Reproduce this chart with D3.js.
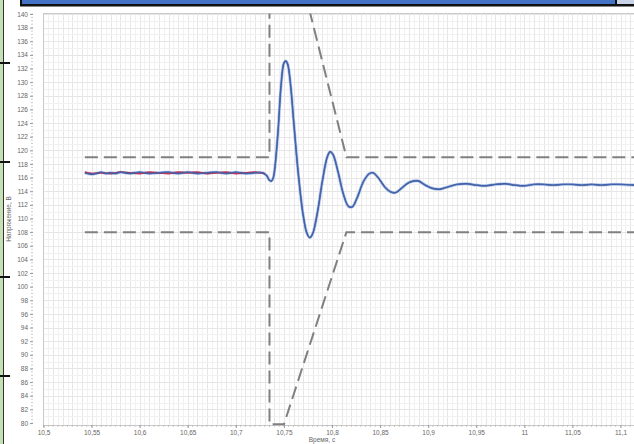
<!DOCTYPE html>
<html>
<head>
<meta charset="utf-8">
<script src="https://cdn.jsdelivr.net/npm/d3@7"></script>
<style>
  body { margin: 0; background: #fff; }
  svg { display: block; font-family: "Liberation Sans", Arial, sans-serif; }
</style>
</head>
<body>
<svg id="chart" width="634" height="444"></svg>
<script>
// time, s  /  voltage, V  (main trace)
var time = [10.543, 10.55, 10.555, 10.56, 10.565, 10.57, 10.575, 10.58, 10.59, 10.60, 10.61, 10.62, 10.63, 10.64, 10.65, 10.66, 10.67, 10.68, 10.69, 10.70, 10.71, 10.72, 10.728, 10.732, 10.735, 10.737, 10.739, 10.741, 10.744, 10.747, 10.750, 10.752, 10.754, 10.757, 10.760, 10.765, 10.770, 10.774, 10.777, 10.780, 10.785, 10.790, 10.795, 10.798, 10.801, 10.806, 10.812, 10.817, 10.821, 10.826, 10.833, 10.839, 10.843, 10.848, 10.855, 10.861, 10.866, 10.872, 10.879, 10.885, 10.890, 10.897, 10.905, 10.912, 10.920, 10.93, 10.94, 10.95, 10.96, 10.97, 10.98, 10.99, 11.00, 11.01, 11.02, 11.03, 11.04, 11.05, 11.06, 11.07, 11.08, 11.09, 11.10, 11.115];
var voltage = [116.7, 116.5, 116.6, 116.8, 116.6, 116.7, 116.6, 116.8, 116.6, 116.8, 116.6, 116.7, 116.8, 116.6, 116.8, 116.6, 116.7, 116.8, 116.6, 116.8, 116.6, 116.7, 116.7, 116.3, 115.6, 115.5, 116.0, 118, 123, 129.5, 132.8, 133.1, 132.6, 129.5, 124.5, 116.5, 110.5, 107.8, 107.2, 107.8, 111, 115.5, 119, 119.8, 119.4, 117, 113.5, 111.8, 111.7, 113, 115.5, 116.6, 116.7, 116, 114.6, 113.9, 113.8, 114.4, 115.2, 115.5, 115.5, 114.9, 114.4, 114.3, 114.6, 115.0, 115.1, 114.9, 114.8, 115.0, 115.1, 114.9, 114.8, 115.0, 115.0, 114.9, 115.0, 115.0, 114.9, 115.0, 114.9, 115.0, 115.0, 114.9];
// second phase visible before the event (red)
var timeRed = [10.543, 10.55, 10.56, 10.57, 10.58, 10.59, 10.60, 10.61, 10.62, 10.63, 10.64, 10.65, 10.66, 10.67, 10.68, 10.69, 10.70, 10.71, 10.72, 10.73];
var voltageRed = [116.8, 116.6, 116.7, 116.6, 116.8, 116.7, 116.6, 116.8, 116.7, 116.6, 116.8, 116.7, 116.8, 116.6, 116.7, 116.8, 116.6, 116.7, 116.8, 116.6];
// tolerance envelope
var upperT = [10.543, 10.735, 10.735, 10.75, 10.815, 11.12];
var upperV = [119, 119, 155.4, 155.4, 119, 119];
var lowerT = [10.543, 10.735, 10.735, 10.75, 10.815, 11.12];
var lowerV = [108, 108, 79.8, 79.8, 108, 108];

var xTicks = [10.5, 10.55, 10.6, 10.65, 10.7, 10.75, 10.8, 10.85, 10.9, 10.95, 11, 11.05, 11.1];
var yTicks = d3.range(80, 141, 2);

var svg = d3.select("#chart");
var pLeft = 43.5, pTop = 13.5, pBottom = 425.5, pRight = 640;

var x = d3.scaleLinear().domain([10.5, 11.1]).range([43.5, 620.5]);
var y = d3.scaleLinear().domain([80, 140]).range([423, 14]);

// frame decorations around the picture
svg.append("rect").attr("x", 0).attr("y", 0).attr("width", 3).attr("height", 444).attr("fill", "#c5e0b4");
svg.append("line").attr("x1", 3.5).attr("x2", 3.5).attr("y1", 0).attr("y2", 444).attr("stroke", "#333").attr("stroke-width", 1);
[63, 162, 277, 376].forEach(function(yy) {
  svg.append("line").attr("x1", 0).attr("x2", 10).attr("y1", yy).attr("y2", yy).attr("stroke", "#111").attr("stroke-width", 2);
});
svg.append("rect").attr("x", 20).attr("y", -2).attr("width", 620).attr("height", 8.5).attr("fill", "#111");
svg.append("rect").attr("x", 22).attr("y", 0).attr("width", 593).attr("height", 4).attr("fill", "#4472c4");
svg.append("rect").attr("x", 617).attr("y", 0).attr("width", 20).attr("height", 4).attr("fill", "#c9d3e8");

// plot area
svg.append("defs").append("clipPath").attr("id", "clip")
  .append("rect").attr("x", pLeft).attr("y", pTop).attr("width", pRight - pLeft).attr("height", pBottom - pTop);

svg.append("rect").attr("x", pLeft).attr("y", pTop).attr("width", pRight - pLeft).attr("height", pBottom - pTop)
  .attr("fill", "#fff").attr("stroke", "#c8c8c8");

var grid = svg.append("g").attr("clip-path", "url(#clip)");
grid.selectAll("line.vx").data(d3.range(1, 125).map(i => 10.5 + i * 0.005))
  .enter().append("line").attr("class", "vx")
  .attr("x1", d => Math.round(x(d)) + 0.5).attr("x2", d => Math.round(x(d)) + 0.5)
  .attr("y1", pTop).attr("y2", pBottom)
  .attr("stroke", (d, i) => i % 2 ? "#e6e6e6" : "#f1f1f1");
grid.selectAll("line.hy").data(d3.range(81, 141, 1))
  .enter().append("line").attr("class", "hy")
  .attr("y1", d => Math.round(y(d)) + 0.5).attr("y2", d => Math.round(y(d)) + 0.5)
  .attr("x1", pLeft).attr("x2", pRight)
  .attr("stroke", (d, i) => i % 2 ? "#e6e6e6" : "#f1f1f1");

// axes
var yAxis = d3.axisLeft(y).tickValues(yTicks).tickSize(3).tickPadding(2)
  .tickFormat(d => d);
var gy = svg.append("g").attr("transform", "translate(33,0)").call(yAxis);
gy.select(".domain").remove();
gy.selectAll("line").attr("stroke", "#999");
gy.selectAll("text").attr("font-size", 6.5).attr("fill", "#666");
svg.append("g").selectAll("line").data(d3.range(80, 140.1, 0.5))
  .enter().append("line")
  .attr("x1", 31).attr("x2", 33).attr("y1", d => y(d)).attr("y2", d => y(d))
  .attr("stroke", "#aaa").attr("stroke-width", 0.6);

var xAxis = d3.axisBottom(x).tickValues(xTicks).tickSize(3).tickPadding(2)
  .tickFormat(d => String(d).replace(".", ","));
var gx = svg.append("g").attr("transform", "translate(0," + 425 + ")").call(xAxis);
gx.select(".domain").remove();
gx.selectAll("line").attr("stroke", "#999");
gx.selectAll("text").attr("font-size", 6.5).attr("fill", "#666");
svg.append("g").selectAll("line").data(d3.range(0, 125).map(i => 10.5 + i * 0.005))
  .enter().append("line")
  .attr("x1", d => x(d)).attr("x2", d => x(d)).attr("y1", 425).attr("y2", 427)
  .attr("stroke", "#aaa").attr("stroke-width", 0.6);

svg.append("text").attr("transform", "translate(11,219) rotate(-90)")
  .attr("text-anchor", "middle").attr("font-size", 6.5).attr("fill", "#666")
  .text("Напряжение, В");
svg.append("text").attr("x", 322).attr("y", 442)
  .attr("text-anchor", "middle").attr("font-size", 6.5).attr("fill", "#666")
  .text("Время, с");

// series
var plot = svg.append("g").attr("clip-path", "url(#clip)");
var line = d3.line().x(d => x(d[0])).y(d => y(d[1]));
var smooth = d3.line().x(d => x(d[0])).y(d => y(d[1])).curve(d3.curveCatmullRom.alpha(0.5));

plot.append("path").datum(d3.zip(upperT, upperV)).attr("d", line)
  .attr("fill", "none").attr("stroke", "#808080").attr("stroke-width", 2).attr("stroke-dasharray", "13,6");
plot.append("path").datum(d3.zip(lowerT, lowerV)).attr("d", line)
  .attr("fill", "none").attr("stroke", "#808080").attr("stroke-width", 2).attr("stroke-dasharray", "13,6");

var main = d3.zip(time, voltage);
plot.append("path").datum(main).attr("d", smooth)
  .attr("fill", "none").attr("stroke", "#aebfe6").attr("stroke-width", 3);
plot.append("path").datum(d3.zip(timeRed, voltageRed)).attr("d", smooth)
  .attr("fill", "none").attr("stroke", "#c0355a").attr("stroke-width", 1.8);
plot.append("path").datum(main).attr("d", smooth)
  .attr("fill", "none").attr("stroke", "#2e4a8c").attr("stroke-width", 1.4);
plot.append("path").datum(main).attr("d", smooth)
  .attr("fill", "none").attr("stroke", "#4f78c4").attr("stroke-width", 0.7);
</script>
</body>
</html>
